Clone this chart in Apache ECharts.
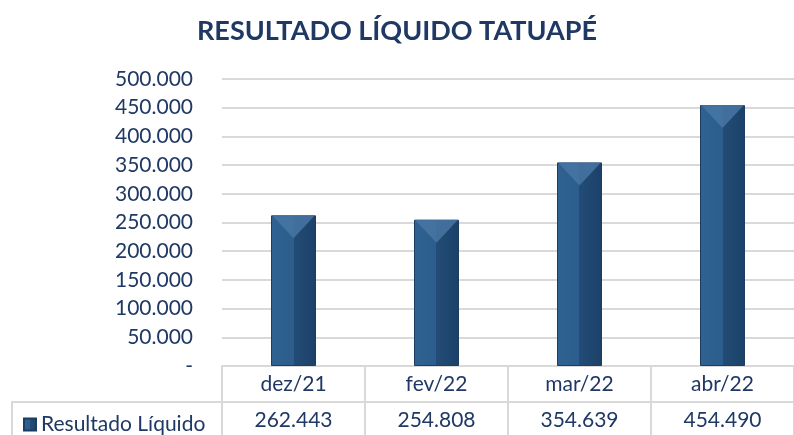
<!DOCTYPE html>
<html>
<head>
<meta charset="utf-8">
<script src="https://cdn.jsdelivr.net/npm/echarts@6/dist/echarts.min.js"></script>
<style>
  html, body { margin: 0; padding: 0; background: #fff; }
  #chart { width: 794px; height: 435px; }
</style>
</head>
<body>
<div id="chart"></div>
<script>
  var titleText = 'RESULTADO LÍQUIDO TATUAPÉ';
  var seriesName = 'Resultado Líquido';
  var categories = ['dez/21', 'fev/22', 'mar/22', 'abr/22'];
  var values = [262443, 254808, 354639, 454490];
  var yTicks = [0, 50000, 100000, 150000, 200000, 250000, 300000, 350000, 400000, 450000, 500000];

  var navy = '#1f3864';
  var font = 'Lato';

  function fmt(v) {
    if (v === 0) return '-';
    return String(v).replace(/\B(?=(\d{3})+(?!\d))/g, '.');
  }

  var barColor = new echarts.graphic.LinearGradient(0, 0, 1, 0, [
    { offset: 0, color: '#2f6292' },
    { offset: 0.5, color: '#2c5d8c' },
    { offset: 0.5, color: '#224c76' },
    { offset: 1, color: '#1c4168' }
  ]);

  var chart = echarts.init(document.getElementById('chart'));
  chart.setOption({
    animation: false,
    title: {
      text: titleText,
      left: 'center',
      top: 13,
      textStyle: { fontFamily: font, fontWeight: 'bold', fontSize: 27, color: navy }
    },
    legend: {
      left: 18,
      top: 409,
      data: [seriesName],
      icon: 'rect',
      itemWidth: 12,
      itemHeight: 12,
      itemGap: 4,
      textStyle: { fontFamily: font, fontSize: 21, color: navy, padding: [0, 0, 0, 0] }
    },
    grid: { left: 222, right: -5, top: 79, bottom: 69 },
    xAxis: [{
      type: 'category',
      data: categories,
      axisLine: { lineStyle: { color: '#d9d9d9', width: 2 } },
      axisTick: { show: true, interval: 0, length: 69, lineStyle: { color: '#d9d9d9', width: 2 } },
      axisLabel: { margin: 8, fontFamily: font, fontSize: 21, color: navy }
    }, {
      type: 'category',
      position: 'bottom',
      offset: 36,
      data: values.map(fmt),
      axisLine: { lineStyle: { color: '#d9d9d9', width: 2 } },
      axisTick: { show: false },
      axisLabel: { margin: 8, fontFamily: font, fontSize: 21, color: navy }
    }],
    yAxis: {
      type: 'value',
      min: 0,
      max: 500000,
      interval: 50000,
      axisLine: { show: false },
      axisTick: { show: false },
      splitLine: { lineStyle: { color: '#d9d9d9', width: 2 } },
      axisLabel: {
        margin: 29,
        fontFamily: font,
        fontSize: 21,
        color: navy,
        formatter: function (v) { return yTicks.indexOf(v) >= 0 ? fmt(v) : ''; }
      }
    },
    graphic: [
      { type: 'line', shape: { x1: 12, y1: 402, x2: 222, y2: 402 }, style: { stroke: '#d9d9d9', lineWidth: 2 } },
      { type: 'line', shape: { x1: 12, y1: 401, x2: 12, y2: 435 }, style: { stroke: '#d9d9d9', lineWidth: 2 } }
    ],
    series: [{
      name: seriesName,
      type: 'bar',
      data: values,
      barWidth: 45,
      itemStyle: { color: barColor, borderColor: '#1b3d60', borderWidth: 1 },
      z: 2
    }, {
      name: 'bevel',
      type: 'scatter',
      data: values,
      symbol: 'triangle',
      symbolRotate: 180,
      symbolSize: [43, 23],
      symbolOffset: [0, '50%'],
      itemStyle: { color: '#4a78a6' },
      silent: true,
      z: 3
    }]
  });
</script>
</body>
</html>
